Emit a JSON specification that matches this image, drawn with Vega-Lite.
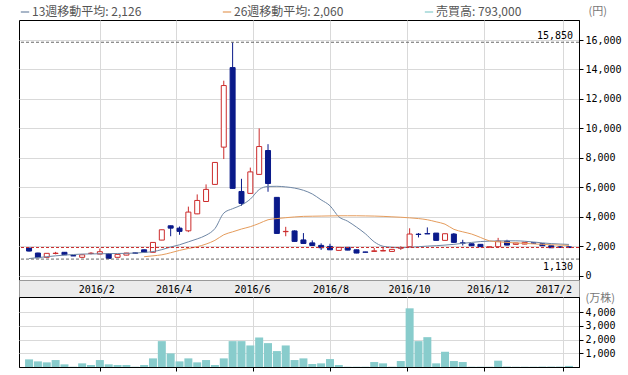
{
  "$schema": "https://vega.github.io/schema/vega-lite/v6.json",
  "background": "white",
  "padding": {"left": 18, "top": 4, "right": 5, "bottom": 0},
  "bounds": "flush",
  "spacing": 0,
  "datasets": {
    "candles": [
      {"d":"2015-12-07","o":1880,"h":1900,"l":1650,"c":1675},
      {"d":"2015-12-14","o":1540,"h":1560,"l":1200,"c":1220},
      {"d":"2015-12-21","o":1250,"h":1530,"l":1240,"c":1520},
      {"d":"2015-12-28","o":1510,"h":1620,"l":1450,"c":1530},
      {"d":"2016-01-04","o":1590,"h":1600,"l":1410,"c":1425},
      {"d":"2016-01-11","o":1365,"h":1370,"l":1340,"c":1345},
      {"d":"2016-01-18","o":1250,"h":1430,"l":1240,"c":1420},
      {"d":"2016-01-25","o":1510,"h":1600,"l":1450,"c":1530},
      {"d":"2016-02-01","o":1470,"h":1850,"l":1460,"c":1630},
      {"d":"2016-02-08","o":1490,"h":1500,"l":1170,"c":1180},
      {"d":"2016-02-15","o":1250,"h":1460,"l":1240,"c":1450},
      {"d":"2016-02-22","o":1400,"h":1550,"l":1390,"c":1540},
      {"d":"2016-02-29","o":1550,"h":1560,"l":1520,"c":1530},
      {"d":"2016-03-07","o":1760,"h":1770,"l":1590,"c":1600},
      {"d":"2016-03-14","o":1590,"h":2270,"l":1580,"c":2260},
      {"d":"2016-03-21","o":2420,"h":3130,"l":2410,"c":3120},
      {"d":"2016-03-28","o":3390,"h":3400,"l":2680,"c":3230},
      {"d":"2016-04-04","o":3230,"h":3340,"l":2780,"c":3010},
      {"d":"2016-04-11","o":3050,"h":4690,"l":2960,"c":4320},
      {"d":"2016-04-18","o":4200,"h":5520,"l":4180,"c":5110},
      {"d":"2016-04-25","o":5040,"h":6200,"l":5030,"c":5860},
      {"d":"2016-05-02","o":6200,"h":7700,"l":6190,"c":7690},
      {"d":"2016-05-09","o":8730,"h":13240,"l":7920,"c":12910},
      {"d":"2016-05-16","o":14130,"h":15850,"l":5920,"c":5930},
      {"d":"2016-05-23","o":5720,"h":6580,"l":4750,"c":4910},
      {"d":"2016-05-30","o":5590,"h":7340,"l":5580,"c":7050},
      {"d":"2016-06-06","o":6880,"h":10000,"l":6870,"c":8770},
      {"d":"2016-06-13","o":8500,"h":8930,"l":5700,"c":6260},
      {"d":"2016-06-20","o":5320,"h":5330,"l":2860,"c":2870},
      {"d":"2016-06-27","o":2990,"h":3320,"l":2680,"c":3010},
      {"d":"2016-07-04","o":3040,"h":3080,"l":2320,"c":2330},
      {"d":"2016-07-11","o":2430,"h":2895,"l":2180,"c":2190},
      {"d":"2016-07-18","o":2230,"h":2400,"l":2040,"c":2050},
      {"d":"2016-07-25","o":2060,"h":2200,"l":1750,"c":1900},
      {"d":"2016-08-01","o":1990,"h":2170,"l":1750,"c":1760},
      {"d":"2016-08-08","o":1720,"h":1930,"l":1710,"c":1925},
      {"d":"2016-08-15","o":1925,"h":1930,"l":1730,"c":1740},
      {"d":"2016-08-22","o":1760,"h":1770,"l":1530,"c":1540},
      {"d":"2016-08-29","o":1610,"h":1620,"l":1590,"c":1595},
      {"d":"2016-09-05","o":1650,"h":1880,"l":1640,"c":1690},
      {"d":"2016-09-12","o":1680,"h":1900,"l":1670,"c":1710},
      {"d":"2016-09-19","o":1650,"h":1800,"l":1640,"c":1790},
      {"d":"2016-09-26","o":1870,"h":2000,"l":1750,"c":1890},
      {"d":"2016-10-03","o":1970,"h":3220,"l":1960,"c":2830},
      {"d":"2016-10-10","o":2820,"h":2900,"l":2600,"c":2800},
      {"d":"2016-10-17","o":2860,"h":3280,"l":2830,"c":2840},
      {"d":"2016-10-24","o":2895,"h":2900,"l":2390,"c":2400},
      {"d":"2016-10-31","o":2400,"h":2860,"l":2390,"c":2850},
      {"d":"2016-11-07","o":2830,"h":2900,"l":2250,"c":2265},
      {"d":"2016-11-14","o":2230,"h":2440,"l":2050,"c":2210},
      {"d":"2016-11-21","o":2170,"h":2180,"l":2030,"c":2035},
      {"d":"2016-11-28","o":2130,"h":2140,"l":1960,"c":1970},
      {"d":"2016-12-05","o":1940,"h":1970,"l":1930,"c":1960},
      {"d":"2016-12-12","o":1970,"h":2570,"l":1960,"c":2350},
      {"d":"2016-12-19","o":2350,"h":2440,"l":2070,"c":2080},
      {"d":"2016-12-26","o":2130,"h":2230,"l":2120,"c":2220},
      {"d":"2017-01-02","o":2150,"h":2280,"l":2140,"c":2265},
      {"d":"2017-01-09","o":2230,"h":2240,"l":2200,"c":2210},
      {"d":"2017-01-16","o":2170,"h":2180,"l":2030,"c":2035},
      {"d":"2017-01-23","o":2035,"h":2040,"l":1890,"c":1900},
      {"d":"2017-01-30","o":1950,"h":2020,"l":1890,"c":1935},
      {"d":"2017-02-06","o":1960,"h":2000,"l":1880,"c":1915}
    ],
    "ma": [
      {"d":"2015-12-07","v":1166,"s":"13週移動平均: 2,126"},
      {"d":"2015-12-14","v":1230,"s":"13週移動平均: 2,126"},
      {"d":"2015-12-21","v":1290,"s":"13週移動平均: 2,126"},
      {"d":"2015-12-28","v":1350,"s":"13週移動平均: 2,126"},
      {"d":"2016-01-04","v":1400,"s":"13週移動平均: 2,126"},
      {"d":"2016-01-11","v":1440,"s":"13週移動平均: 2,126"},
      {"d":"2016-01-18","v":1470,"s":"13週移動平均: 2,126"},
      {"d":"2016-01-25","v":1480,"s":"13週移動平均: 2,126"},
      {"d":"2016-02-01","v":1490,"s":"13週移動平均: 2,126"},
      {"d":"2016-02-08","v":1500,"s":"13週移動平均: 2,126"},
      {"d":"2016-02-15","v":1510,"s":"13週移動平均: 2,126"},
      {"d":"2016-02-22","v":1520,"s":"13週移動平均: 2,126"},
      {"d":"2016-02-29","v":1540,"s":"13週移動平均: 2,126"},
      {"d":"2016-03-07","v":1580,"s":"13週移動平均: 2,126"},
      {"d":"2016-03-14","v":1640,"s":"13週移動平均: 2,126"},
      {"d":"2016-03-21","v":1770,"s":"13週移動平均: 2,126"},
      {"d":"2016-03-28","v":1950,"s":"13週移動平均: 2,126"},
      {"d":"2016-04-04","v":2100,"s":"13週移動平均: 2,126"},
      {"d":"2016-04-11","v":2300,"s":"13週移動平均: 2,126"},
      {"d":"2016-04-18","v":2500,"s":"13週移動平均: 2,126"},
      {"d":"2016-04-25","v":2750,"s":"13週移動平均: 2,126"},
      {"d":"2016-05-02","v":3200,"s":"13週移動平均: 2,126"},
      {"d":"2016-05-09","v":4250,"s":"13週移動平均: 2,126"},
      {"d":"2016-05-16","v":4550,"s":"13週移動平均: 2,126"},
      {"d":"2016-05-23","v":4800,"s":"13週移動平均: 2,126"},
      {"d":"2016-05-30","v":5200,"s":"13週移動平均: 2,126"},
      {"d":"2016-06-06","v":5850,"s":"13週移動平均: 2,126"},
      {"d":"2016-06-13","v":6060,"s":"13週移動平均: 2,126"},
      {"d":"2016-06-20","v":6070,"s":"13週移動平均: 2,126"},
      {"d":"2016-06-27","v":6030,"s":"13週移動平均: 2,126"},
      {"d":"2016-07-04","v":5950,"s":"13週移動平均: 2,126"},
      {"d":"2016-07-11","v":5800,"s":"13週移動平均: 2,126"},
      {"d":"2016-07-18","v":5550,"s":"13週移動平均: 2,126"},
      {"d":"2016-07-25","v":5150,"s":"13週移動平均: 2,126"},
      {"d":"2016-08-01","v":4750,"s":"13週移動平均: 2,126"},
      {"d":"2016-08-08","v":4000,"s":"13週移動平均: 2,126"},
      {"d":"2016-08-15","v":3700,"s":"13週移動平均: 2,126"},
      {"d":"2016-08-22","v":3300,"s":"13週移動平均: 2,126"},
      {"d":"2016-08-29","v":2850,"s":"13週移動平均: 2,126"},
      {"d":"2016-09-05","v":2300,"s":"13週移動平均: 2,126"},
      {"d":"2016-09-12","v":2000,"s":"13週移動平均: 2,126"},
      {"d":"2016-09-19","v":1930,"s":"13週移動平均: 2,126"},
      {"d":"2016-09-26","v":1900,"s":"13週移動平均: 2,126"},
      {"d":"2016-10-03","v":1925,"s":"13週移動平均: 2,126"},
      {"d":"2016-10-10","v":1970,"s":"13週移動平均: 2,126"},
      {"d":"2016-10-17","v":2010,"s":"13週移動平均: 2,126"},
      {"d":"2016-10-24","v":2040,"s":"13週移動平均: 2,126"},
      {"d":"2016-10-31","v":2080,"s":"13週移動平均: 2,126"},
      {"d":"2016-11-07","v":2130,"s":"13週移動平均: 2,126"},
      {"d":"2016-11-14","v":2200,"s":"13週移動平均: 2,126"},
      {"d":"2016-11-21","v":2260,"s":"13週移動平均: 2,126"},
      {"d":"2016-11-28","v":2320,"s":"13週移動平均: 2,126"},
      {"d":"2016-12-05","v":2350,"s":"13週移動平均: 2,126"},
      {"d":"2016-12-12","v":2360,"s":"13週移動平均: 2,126"},
      {"d":"2016-12-19","v":2370,"s":"13週移動平均: 2,126"},
      {"d":"2016-12-26","v":2370,"s":"13週移動平均: 2,126"},
      {"d":"2017-01-02","v":2340,"s":"13週移動平均: 2,126"},
      {"d":"2017-01-09","v":2290,"s":"13週移動平均: 2,126"},
      {"d":"2017-01-16","v":2230,"s":"13週移動平均: 2,126"},
      {"d":"2017-01-23","v":2180,"s":"13週移動平均: 2,126"},
      {"d":"2017-01-30","v":2150,"s":"13週移動平均: 2,126"},
      {"d":"2017-02-06","v":2126,"s":"13週移動平均: 2,126"},
      {"d":"2016-03-07","v":1290,"s":"26週移動平均: 2,060"},
      {"d":"2016-03-14","v":1350,"s":"26週移動平均: 2,060"},
      {"d":"2016-03-21","v":1420,"s":"26週移動平均: 2,060"},
      {"d":"2016-03-28","v":1560,"s":"26週移動平均: 2,060"},
      {"d":"2016-04-04","v":1720,"s":"26週移動平均: 2,060"},
      {"d":"2016-04-11","v":1850,"s":"26週移動平均: 2,060"},
      {"d":"2016-04-18","v":1970,"s":"26週移動平均: 2,060"},
      {"d":"2016-04-25","v":2150,"s":"26週移動平均: 2,060"},
      {"d":"2016-05-02","v":2400,"s":"26週移動平均: 2,060"},
      {"d":"2016-05-09","v":2780,"s":"26週移動平均: 2,060"},
      {"d":"2016-05-16","v":2980,"s":"26週移動平均: 2,060"},
      {"d":"2016-05-23","v":3170,"s":"26週移動平均: 2,060"},
      {"d":"2016-05-30","v":3330,"s":"26週移動平均: 2,060"},
      {"d":"2016-06-06","v":3550,"s":"26週移動平均: 2,060"},
      {"d":"2016-06-13","v":3800,"s":"26週移動平均: 2,060"},
      {"d":"2016-06-20","v":3880,"s":"26週移動平均: 2,060"},
      {"d":"2016-06-27","v":3940,"s":"26週移動平均: 2,060"},
      {"d":"2016-07-04","v":3990,"s":"26週移動平均: 2,060"},
      {"d":"2016-07-11","v":4030,"s":"26週移動平均: 2,060"},
      {"d":"2016-07-18","v":4040,"s":"26週移動平均: 2,060"},
      {"d":"2016-07-25","v":4050,"s":"26週移動平均: 2,060"},
      {"d":"2016-08-01","v":4060,"s":"26週移動平均: 2,060"},
      {"d":"2016-08-08","v":4070,"s":"26週移動平均: 2,060"},
      {"d":"2016-08-15","v":4070,"s":"26週移動平均: 2,060"},
      {"d":"2016-08-22","v":4070,"s":"26週移動平均: 2,060"},
      {"d":"2016-08-29","v":4060,"s":"26週移動平均: 2,060"},
      {"d":"2016-09-05","v":4050,"s":"26週移動平均: 2,060"},
      {"d":"2016-09-12","v":4030,"s":"26週移動平均: 2,060"},
      {"d":"2016-09-19","v":4000,"s":"26週移動平均: 2,060"},
      {"d":"2016-09-26","v":3970,"s":"26週移動平均: 2,060"},
      {"d":"2016-10-03","v":3930,"s":"26週移動平均: 2,060"},
      {"d":"2016-10-10","v":3880,"s":"26週移動平均: 2,060"},
      {"d":"2016-10-17","v":3800,"s":"26週移動平均: 2,060"},
      {"d":"2016-10-24","v":3660,"s":"26週移動平均: 2,060"},
      {"d":"2016-10-31","v":3500,"s":"26週移動平均: 2,060"},
      {"d":"2016-11-07","v":3150,"s":"26週移動平均: 2,060"},
      {"d":"2016-11-14","v":2980,"s":"26週移動平均: 2,060"},
      {"d":"2016-11-21","v":2830,"s":"26週移動平均: 2,060"},
      {"d":"2016-11-28","v":2600,"s":"26週移動平均: 2,060"},
      {"d":"2016-12-05","v":2370,"s":"26週移動平均: 2,060"},
      {"d":"2016-12-12","v":2300,"s":"26週移動平均: 2,060"},
      {"d":"2016-12-19","v":2260,"s":"26週移動平均: 2,060"},
      {"d":"2016-12-26","v":2230,"s":"26週移動平均: 2,060"},
      {"d":"2017-01-02","v":2200,"s":"26週移動平均: 2,060"},
      {"d":"2017-01-09","v":2160,"s":"26週移動平均: 2,060"},
      {"d":"2017-01-16","v":2130,"s":"26週移動平均: 2,060"},
      {"d":"2017-01-23","v":2100,"s":"26週移動平均: 2,060"},
      {"d":"2017-01-30","v":2080,"s":"26週移動平均: 2,060"},
      {"d":"2017-02-06","v":2060,"s":"26週移動平均: 2,060"}
    ],
    "vol": [
      {"d":"2015-12-07","v":556},{"d":"2015-12-14","v":410},{"d":"2015-12-21","v":338},{"d":"2015-12-28","v":507},
      {"d":"2016-01-04","v":193},{"d":"2016-01-11","v":20},{"d":"2016-01-18","v":266},{"d":"2016-01-25","v":145},
      {"d":"2016-02-01","v":507},{"d":"2016-02-08","v":193},{"d":"2016-02-15","v":145},{"d":"2016-02-22","v":145},
      {"d":"2016-02-29","v":20},{"d":"2016-03-07","v":145},{"d":"2016-03-14","v":628},{"d":"2016-03-21","v":1884},
      {"d":"2016-03-28","v":990},{"d":"2016-04-04","v":410},{"d":"2016-04-11","v":628},{"d":"2016-04-18","v":338},
      {"d":"2016-04-25","v":507},{"d":"2016-05-02","v":145},{"d":"2016-05-09","v":628},{"d":"2016-05-16","v":1884},
      {"d":"2016-05-23","v":1884},{"d":"2016-05-30","v":1570},{"d":"2016-06-06","v":2150},{"d":"2016-06-13","v":1740},
      {"d":"2016-06-20","v":1160},{"d":"2016-06-27","v":1570},{"d":"2016-07-04","v":507},{"d":"2016-07-11","v":628},
      {"d":"2016-07-18","v":217},{"d":"2016-07-25","v":266},{"d":"2016-08-01","v":580},{"d":"2016-08-08","v":145},
      {"d":"2016-08-15","v":20},{"d":"2016-08-22","v":20},{"d":"2016-08-29","v":20},{"d":"2016-09-05","v":362},
      {"d":"2016-09-12","v":266},{"d":"2016-09-19","v":20},{"d":"2016-09-26","v":435},{"d":"2016-10-03","v":4275},
      {"d":"2016-10-10","v":1884},{"d":"2016-10-17","v":2174},{"d":"2016-10-24","v":266},{"d":"2016-10-31","v":1111},
      {"d":"2016-11-07","v":435},{"d":"2016-11-14","v":362},{"d":"2016-11-21","v":20},{"d":"2016-11-28","v":20},
      {"d":"2016-12-05","v":20},{"d":"2016-12-12","v":460},{"d":"2016-12-19","v":30},{"d":"2016-12-26","v":20},
      {"d":"2017-01-02","v":20},{"d":"2017-01-09","v":20},{"d":"2017-01-16","v":30},{"d":"2017-01-23","v":30},
      {"d":"2017-01-30","v":30},{"d":"2017-02-06","v":79.3}
    ],
    "months": [
      {"d":"2016-02-01","t":"2016/2"},{"d":"2016-04-01","t":"2016/4"},{"d":"2016-06-01","t":"2016/6"},
      {"d":"2016-08-01","t":"2016/8"},{"d":"2016-10-01","t":"2016/10"},{"d":"2016-12-01","t":"2016/12"},
      {"d":"2017-02-01","t":"2017/2"}
    ]
  },
  "vconcat": [
    {
      "width": 560,
      "height": 260,
      "view": {"stroke": "#000"},
      "encoding": {
        "x": {"field": "d", "type": "temporal", "scale": {"type": "utc", "domain": [{"year": 2015, "month": 12, "date": 3, "utc": true}, {"year": 2017, "month": 2, "date": 10, "utc": true}]},
          "axis": {"values": [{"year":2016,"month":2,"date":1,"utc":true},{"year":2016,"month":4,"date":1,"utc":true},{"year":2016,"month":6,"date":1,"utc":true},{"year":2016,"month":8,"date":1,"utc":true},{"year":2016,"month":10,"date":1,"utc":true},{"year":2016,"month":12,"date":1,"utc":true},{"year":2017,"month":2,"date":1,"utc":true}], "labels": false, "ticks": false, "domain": false, "grid": true, "title": null}},
        "y": {"field": "v", "type": "quantitative", "scale": {"domain": [-290, 17360], "nice": false, "zero": false},
          "axis": {"orient": "right", "values": [0,2000,4000,6000,8000,10000,12000,14000,16000], "labelExpr": "format(datum.value, ',d')", "labelOverlap": false, "labelBound": false, "grid": true, "tickSize": 4, "labelPadding": 2, "title": "(円)", "titleAngle": 0, "titleAlign": "left", "titleBaseline": "middle", "titleX": 9, "titleY": -9, "titleFont": "Noto Sans CJK JP", "titleFontSize": 11, "titleFontWeight": "normal", "titleColor": "#777"}}
      },
      "layer": [
        {
          "data": {"name": "candles"},
          "mark": {"type": "rule", "strokeWidth": 1},
          "encoding": {
            "y": {"field": "l", "type": "quantitative"},
            "y2": {"field": "h"},
            "stroke": {"condition": {"test": "datum.c >= datum.o", "value": "#cc2b2b"}, "value": "#0a1a8a"}
          }
        },
        {
          "data": {"name": "candles"},
          "mark": {"type": "bar", "size": 5, "strokeWidth": 1},
          "encoding": {
            "y": {"field": "o", "type": "quantitative"},
            "y2": {"field": "c"},
            "fill": {"condition": {"test": "datum.c >= datum.o", "value": "#ffffff"}, "value": "#0a1a8a"},
            "stroke": {"condition": {"test": "datum.c >= datum.o", "value": "#cc2b2b"}, "value": "#0a1a8a"}
          }
        },
        {
          "data": {"name": "ma"},
          "mark": {"type": "line", "strokeWidth": 1, "interpolate": "monotone"},
          "encoding": {
            "color": {"field": "s", "type": "nominal",
              "scale": {"domain": ["13週移動平均: 2,126", "26週移動平均: 2,060", "売買高: 793,000"], "range": ["#6e86a4", "#e59c5c", "#88cccc"]},
              "legend": {"title": null, "orient": "top", "direction": "horizontal", "symbolType": "stroke", "symbolStrokeWidth": 1.2, "symbolSize": 70, "labelFont": "Noto Sans CJK JP", "labelFontSize": 12, "labelColor": "#555", "columnPadding": 78, "labelOffset": 1, "offset": -14, "padding": 0}}
          }
        },
        {
          "data": {"values": [{"v": 15850, "k": "hi"}, {"v": 1130, "k": "lo"}, {"v": 1915, "k": "last"}]},
          "mark": {"type": "rule", "strokeDash": [3, 2], "strokeWidth": 1},
          "encoding": {
            "x": null,
            "stroke": {"condition": {"test": "datum.k == 'last'", "value": "#cc2b2b"}, "value": "#666666"}
          }
        },
        {
          "data": {"values": [{"v": 15850, "t": "15,850"}]},
          "mark": {"type": "text", "align": "right", "baseline": "bottom", "dx": -6, "dy": -1, "font": "DejaVu Sans Mono", "fontSize": 10, "color": "#000"},
          "encoding": {
            "x": {"value": "width"},
            "text": {"field": "t"}
          }
        },
        {
          "data": {"values": [{"v": 1130, "t": "1,130"}]},
          "mark": {"type": "text", "align": "right", "baseline": "top", "dx": -6, "dy": 3, "font": "DejaVu Sans Mono", "fontSize": 10, "color": "#000"},
          "encoding": {
            "x": {"value": "width"},
            "text": {"field": "t"}
          }
        }
      ]
    },
    {
      "width": 560,
      "height": 17,
      "view": {"fill": "#ebebeb", "stroke": "#999999"},
      "data": {"name": "months"},
      "mark": {"type": "rule", "opacity": 0},
      "encoding": {
        "x": {"field": "d", "type": "temporal", "scale": {"type": "utc", "domain": [{"year": 2015, "month": 12, "date": 3, "utc": true}, {"year": 2017, "month": 2, "date": 10, "utc": true}]},
          "axis": {"orient": "bottom", "values": [{"year":2016,"month":2,"date":1,"utc":true},{"year":2016,"month":4,"date":1,"utc":true},{"year":2016,"month":6,"date":1,"utc":true},{"year":2016,"month":8,"date":1,"utc":true},{"year":2016,"month":10,"date":1,"utc":true},{"year":2016,"month":12,"date":1,"utc":true},{"year":2017,"month":2,"date":1,"utc":true}],
            "labelExpr": "utcFormat(datum.value, '%Y') + '/' + (utcmonth(datum.value) + 1)", "ticks": false, "domain": false, "grid": false, "labelPadding": -13, "labelBaseline": "top", "labelFlush": 15, "labelFlushOffset": 4, "title": null}}
      }
    },
    {
      "width": 560,
      "height": 70,
      "view": {"stroke": "#000"},
      "data": {"name": "vol"},
      "mark": {"type": "bar", "size": 8, "color": "#88cccc"},
      "encoding": {
        "x": {"field": "d", "type": "temporal", "scale": {"type": "utc", "domain": [{"year": 2015, "month": 12, "date": 3, "utc": true}, {"year": 2017, "month": 2, "date": 10, "utc": true}]},
          "axis": {"values": [{"year":2016,"month":2,"date":1,"utc":true},{"year":2016,"month":4,"date":1,"utc":true},{"year":2016,"month":6,"date":1,"utc":true},{"year":2016,"month":8,"date":1,"utc":true},{"year":2016,"month":10,"date":1,"utc":true},{"year":2016,"month":12,"date":1,"utc":true},{"year":2017,"month":2,"date":1,"utc":true}], "labels": false, "ticks": true, "tickSize": 4, "domain": true, "grid": true, "title": null}},
        "y": {"field": "v", "type": "quantitative", "scale": {"domain": [0, 5100], "nice": false},
          "axis": {"orient": "right", "values": [1000, 2000, 3000, 4000], "format": ",d", "labelOverlap": false, "grid": true, "tickSize": 4, "labelPadding": 2, "title": "(万株)", "titleAngle": 0, "titleAlign": "left", "titleBaseline": "middle", "titleX": 6, "titleY": 1, "titleFont": "Noto Sans CJK JP", "titleFontSize": 11, "titleFontWeight": "normal", "titleColor": "#777"}}
      }
    }
  ],
  "config": {
    "axis": {"labelFont": "DejaVu Sans Mono", "labelFontSize": 10, "labelColor": "#000", "gridColor": "#d9d9d9", "gridWidth": 1, "tickColor": "#000", "domainColor": "#000"},
    "axisY": {"labelOverlap": false}
  }
}
